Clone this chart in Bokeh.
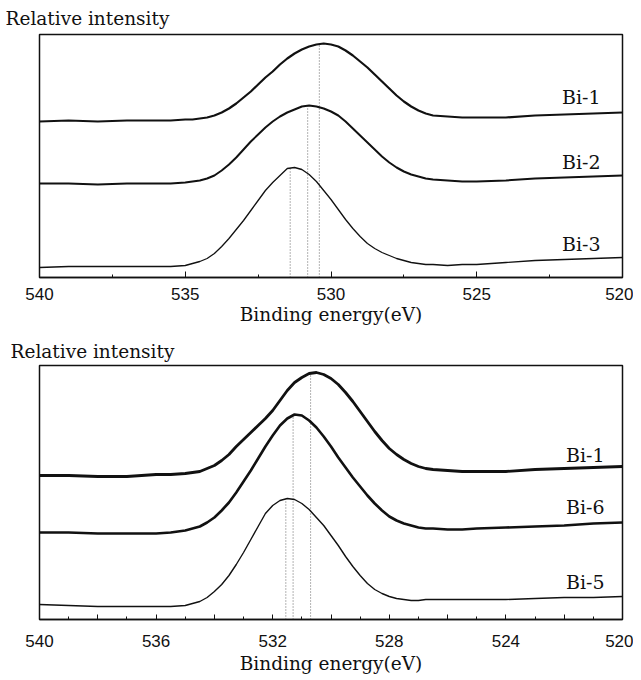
import numpy as np
from bokeh.plotting import figure
from bokeh.layouts import column
from bokeh.models import Range1d, FixedTicker
from bokeh.core.properties import value
from bokeh.embed import file_html
from bokeh.resources import INLINE

# ---------------- data ----------------
energy = [540, 539, 538, 537, 536, 535.5, 535, 534.75, 534.5, 534.25, 534,
          533.75, 533.5, 533.25, 533, 532.75, 532.5, 532.25, 532, 531.75, 531.5,
          531.25, 531, 530.75, 530.5, 530.25, 530, 529.75, 529.5, 529.25, 529,
          528.75, 528.5, 528.25, 528, 527.75, 527.5, 527.25, 527, 526.75, 526.5,
          526, 525.5, 525, 524, 523, 522, 521, 520]

# upper panel (relative intensity, arbitrary units)
top_names = ["Bi-1", "Bi-2", "Bi-3"]
top_bi1 = [156, 157, 156, 157, 157, 157, 158, 158, 159, 160, 162, 165, 169, 174,
           180, 186, 193, 200, 206, 213, 219, 224, 228, 231, 233, 234, 233, 231,
           227, 222, 216, 210, 203, 196, 189, 182, 176, 171, 167, 164, 162, 161,
           160, 160, 160, 162, 163, 164, 165]
top_bi2 = [94, 94, 93, 94, 94, 94, 95, 96, 97, 99, 102, 107, 113, 120, 128, 136,
           143, 150, 156, 161, 165, 168, 171, 172, 171, 169, 166, 162, 156, 149,
           142, 135, 128, 121, 115, 110, 106, 103, 101, 99, 98, 97, 96, 96, 97,
           99, 100, 101, 102]
top_bi3 = [10, 11, 11, 11, 11, 11, 12, 14, 16, 19, 24, 31, 39, 48, 57, 67, 77,
           87, 95, 102, 109, 110, 108, 103, 96, 87, 78, 68, 58, 49, 41, 34, 29,
           25, 22, 19, 17, 15, 14, 13, 13, 12, 13, 13, 15, 17, 18, 19, 20]
top_peaks = [530.4, 530.8, 531.4]
top_ticks = [540, 535, 530, 525, 520]
top_minor = [537.5, 532.5, 527.5, 522.5]
top_tick_labels = ["540", "535", "530", "525", "520"]

# lower panel
bot_names = ["Bi-1", "Bi-6", "Bi-5"]
bot_bi1 = [144, 144, 143, 143, 145, 145, 146, 147, 148, 151, 154, 159, 165, 173,
           180, 187, 194, 201, 209, 219, 229, 237, 242, 246, 247, 245, 241, 235,
           227, 218, 208, 198, 188, 179, 171, 165, 160, 156, 153, 151, 150, 149,
           148, 148, 148, 150, 151, 152, 153]
bot_bi6 = [87, 87, 86, 86, 86, 87, 89, 91, 93, 97, 102, 109, 117, 127, 138, 149,
           161, 173, 184, 194, 201, 205, 204, 199, 192, 183, 173, 162, 152, 142,
           133, 124, 116, 109, 103, 99, 96, 94, 92, 91, 91, 90, 90, 91, 92, 93,
           94, 96, 97]
bot_bi5 = [15, 14, 13, 13, 13, 13, 14, 16, 18, 22, 28, 35, 44, 55, 67, 80, 93,
           106, 114, 119, 121, 120, 116, 110, 102, 94, 84, 74, 63, 53, 44, 36, 30,
           26, 23, 21, 20, 19, 19, 20, 20, 20, 20, 20, 20, 21, 22, 22, 23]
bot_peaks = [530.7, 531.3, 531.55]
bot_ticks = [540, 538, 536, 534, 532, 530, 528, 526, 524, 522, 520]
bot_minor = [539, 537, 535, 533, 531, 529, 527, 525, 523, 521]
bot_tick_labels = ["540", "", "536", "", "532", "", "528", "", "524", "", "520"]

x_label = "Binding energy(eV)"
y_label = "Relative intensity"

SERIF = "DejaVu Serif"
SANS = "Liberation Sans"


def panel(height, borders, ymax, series, names, widths, peaks, ticks, minor,
          tick_labels, tick_in, tick_standoff, label_dx, label_dy, title_offset,
          title_standoff, axis_standoff):
    bl, br, bt, bb = borders
    p = figure(width=633, height=height, output_backend="svg",
               toolbar_location=None, x_range=Range1d(energy[0], energy[-1]),
               y_range=Range1d(0, ymax), min_border_left=bl,
               min_border_right=br, min_border_top=bt, min_border_bottom=bb)
    p.xgrid.visible = False
    p.ygrid.visible = False
    p.yaxis.visible = False
    p.outline_line_color = "#111111"
    p.outline_line_width = 1.5
    p.background_fill_color = "white"
    p.border_fill_color = "white"

    p.title.text = y_label
    p.title.align = "left"
    p.title.offset = title_offset
    p.title.text_font = SERIF
    p.title.text_font_size = "18.5px"
    p.title.text_font_style = "normal"
    p.title.text_color = "#111111"
    p.title.standoff = title_standoff

    ax = p.xaxis[0]
    ax.ticker = FixedTicker(ticks=ticks, minor_ticks=minor)
    ax.major_label_overrides = {t: l for t, l in zip(ticks, tick_labels)}
    ax.major_tick_in = tick_in
    ax.major_tick_out = 0
    ax.minor_tick_in = 3
    ax.minor_tick_out = 0
    ax.axis_line_width = 1.5
    ax.axis_line_color = "#111111"
    ax.major_tick_line_color = "#111111"
    ax.minor_tick_line_color = "#111111"
    ax.major_label_text_font = SANS
    ax.major_label_text_font_size = "17px"
    ax.major_label_text_color = "#111111"
    ax.major_label_standoff = tick_standoff
    ax.axis_label = x_label
    ax.axis_label_text_font = SERIF
    ax.axis_label_text_font_size = "18.5px"
    ax.axis_label_text_font_style = "normal"
    ax.axis_label_text_color = "#111111"
    ax.axis_label_standoff = axis_standoff

    e_asc = energy[::-1]
    for ys, name, w, pk, dy in zip(series, names, widths, peaks, label_dy):
        top = float(np.interp(pk, e_asc, ys[::-1]))
        p.segment(x0=[pk], y0=[0], x1=[pk], y1=[top], line_color="#666666",
                  line_width=1, line_dash="1 2")
        p.line(energy, ys, line_color="#111111", line_width=w,
               line_join="round", line_cap="round")
        p.text(x=[energy[-1]], y=[ys[-1]], text=[name], x_offset=label_dx,
               y_offset=dy, text_align="right", text_baseline="bottom",
               text_font=value(SERIF), text_font_size="19px",
               text_color="#111111")
    return p


p1 = panel(333, (39, 11, 34, 56), 243, [top_bi1, top_bi2, top_bi3], top_names,
           [2.2, 2.0, 1.3], top_peaks, top_ticks, top_minor, top_tick_labels,
           6, 10, -22, [-5, -3, -3], -34, 11, 1)
p2 = panel(347, (36, 8, 32, 61), 254, [bot_bi1, bot_bi6, bot_bi5], bot_names,
           [2.8, 2.6, 1.4], bot_peaks, bot_ticks, bot_minor, bot_tick_labels,
           5, 15, -18, [-1, -5, -4], -29, 8, 3)

layout = column(p1, p2, spacing=0)
open("out.html", "w").write(file_html(layout, INLINE))
